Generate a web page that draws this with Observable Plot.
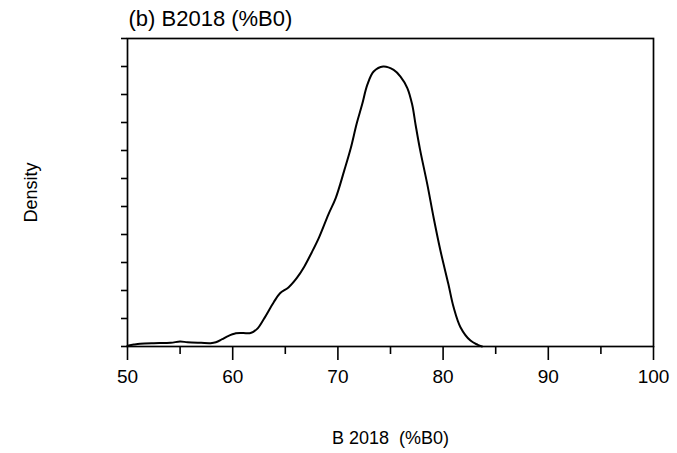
<!DOCTYPE html>
<html>
<head>
<meta charset="utf-8">
<script src="https://cdn.jsdelivr.net/npm/d3@7"></script>
<script src="https://cdn.jsdelivr.net/npm/@observablehq/plot@0.6"></script>
<style>
  html, body { margin: 0; padding: 0; background: #fff; }
  svg { display: block; }
</style>
</head>
<body>
<div id="chart"></div>
<script>
// Posterior density of B2018 expressed as a percentage of B0
const biomass = [50.0, 50.6, 51.2, 52.5, 54.1, 55.0, 55.7, 57.0, 57.9, 58.4, 59.0, 59.5, 60.3, 61.0, 61.7,
  62.3, 62.96, 63.9, 64.5, 65.3, 66.1, 66.8, 67.5, 68.2, 69.1, 69.8, 70.6, 71.2, 71.8, 72.3, 72.8,
  73.4, 74.3, 75.3, 75.95, 76.6, 77.06, 77.38, 77.8, 78.5, 79.1, 79.75, 80.5, 81.0, 81.65, 82.6, 83.3, 83.7];
const density = [0.03, 0.07, 0.10, 0.12, 0.13, 0.18, 0.15, 0.13, 0.12, 0.15, 0.26, 0.36, 0.47, 0.48, 0.48,
  0.62, 0.98, 1.58, 1.90, 2.11, 2.45, 2.85, 3.35, 3.89, 4.72, 5.31, 6.28, 7.05, 7.98, 8.64, 9.35,
  9.82, 10.0, 9.88, 9.64, 9.23, 8.64, 7.93, 7.05, 5.79, 4.60, 3.42, 2.23, 1.40, 0.69, 0.21, 0.06, 0.0];

const xMajorTicks = [50, 60, 70, 80, 90, 100];
const xMinorTicks = [55, 65, 75, 85, 95];
const yTicks = [0, 1, 2, 3, 4, 5, 6, 7, 8, 9, 10, 11];

const titleText = "(b) B2018 (%B0)";
const xLabel = "B 2018\u00a0 (%B0)";
const yLabel = "Density";

const curve = biomass.map((b, i) => ({b, d: density[i]}));
const font = "Liberation Sans, Arial, sans-serif";

const chart = Plot.plot({
  width: 677,
  height: 453,
  marginLeft: 127,
  marginRight: 24,
  marginTop: 38,
  marginBottom: 107,
  style: {fontFamily: font, color: "#000", background: "#fff", overflow: "visible"},
  x: {domain: [50, 100]},
  y: {domain: [0, 11]},
  marks: [
    Plot.frame({stroke: "#000", strokeWidth: 1.7}),
    Plot.axisY(yTicks, {tickSize: 6, strokeWidth: 1.6, tickFormat: () => "", label: null}),
    Plot.axisX(xMajorTicks, {tickSize: 14, tickPadding: 9, strokeWidth: 1.6, fontSize: 19, label: null}),
    Plot.axisX(xMinorTicks, {tickSize: 8, strokeWidth: 1.6, tickFormat: () => "", label: null}),
    Plot.line(curve, {x: "b", y: "d", curve: "catmull-rom", stroke: "#000", strokeWidth: 2}),
    Plot.text([titleText], {frameAnchor: "top-left", dy: -20, dx: 1, textAnchor: "start", lineAnchor: "middle", fontSize: 22, fill: "#000"}),
    Plot.text([xLabel], {frameAnchor: "bottom", dy: 92, lineAnchor: "middle", fontSize: 18, fill: "#000"}),
    Plot.text([yLabel], {frameAnchor: "left", dx: -96, rotate: -90, textAnchor: "middle", lineAnchor: "middle", fontSize: 18, fill: "#000"})
  ]
});

document.getElementById("chart").append(chart);
</script>
</body>
</html>
